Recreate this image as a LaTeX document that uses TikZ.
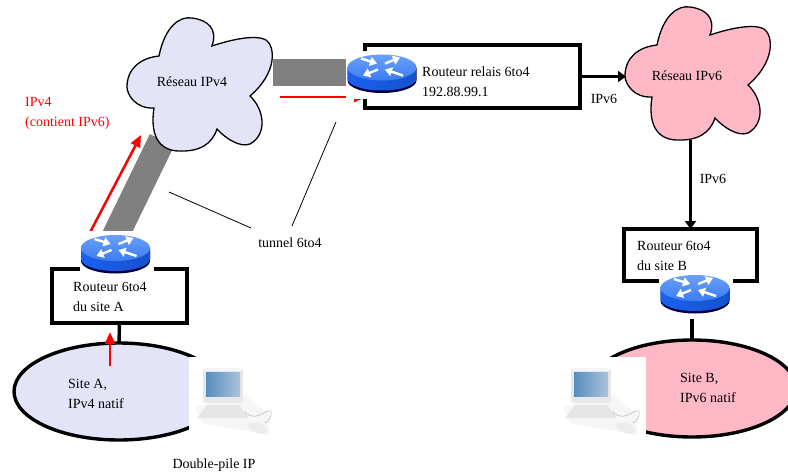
\documentclass[tikz,border=0pt]{standalone}
\usepackage{fontspec}
\setmainfont{Liberation Serif}
\usetikzlibrary{arrows.meta,shapes.geometric}
\definecolor{bleuclair}{HTML}{E3E4F7}
\definecolor{rose}{HTML}{FFB8C6}
\definecolor{bleurouteur}{HTML}{3C7CF2}
\definecolor{bleuvif}{HTML}{6AA0F8}
\definecolor{bleucorps}{HTML}{1A60F0}
\definecolor{ecrang}{HTML}{5A8CBC}
\definecolor{ecrand}{HTML}{A8C4DC}
\tikzset{
  texte/.style={align=left,anchor=west,inner sep=0pt,font=\fontsize{14}{20}\selectfont},
  boite/.style={draw,line width=3.4pt,fill=white,inner sep=0pt,outer sep=0pt},
  site/.style={draw,ellipse,line width=3.4pt,inner sep=0pt,outer sep=0pt,minimum height=97pt},
  liaison/.style={line width=3.4pt},
  fleche/.style={line width=3.4pt,-{Triangle[length=8pt,width=11pt]}},
  rouge/.style={red,line width=2.5pt,-{Triangle[length=12pt,width=10pt]}},
  tunnel/.style={gray,line width=27pt},
  routeur/.pic={
    \fill[white] (-36,-23) rectangle (38,25);
    \fill[black!75!blue] (-34.5,-6) -- (-34.5,7) arc[start angle=180,end angle=0,x radius=34.5,y radius=12.5] -- (34.5,-6) -- cycle;
    \shade[left color=bleucorps,right color=bleucorps!85!black] (-34.5,-6) -- (-34.5,5) arc[start angle=180,end angle=0,x radius=34.5,y radius=12] -- (34.5,-6) -- cycle;
    \shade[top color=bleuvif,bottom color=bleurouteur] (0,-6) ellipse[x radius=34.5,y radius=13];
    \foreach \a/\b/\c/\d in {-21/-15/-5/-10,3/-10/18/-16,-4/-4/-19/2,21/2/3/-4}
      \draw[white,line width=2.4pt,-{Triangle[length=7pt,width=9pt]}] (\a,\b) -- (\c,\d);
    \coordinate (-bas) at (0,25);
  },
  portable/.pic={
    \fill[white] (-34,-28) rectangle (55,60);
    \fill[gray!7] (-28,22) -- (24,10) -- (46,30) -- (46,50) -- (-20,38) -- cycle;
    \fill[gray!18,rounded corners=1pt] (-20,-17) rectangle (20,18);
    \fill[gray!8,rounded corners=1pt] (-20,-17) rectangle (20,-14);
    \shade[left color=ecrang,right color=ecrand] (-17,-13) rectangle (17,11);
    \fill[gray!20,rounded corners=1pt] (-16,20) -- (16,20) -- (26,33) -- (-26,33) -- cycle;
    \draw[gray!60,line width=.5pt] (22,27) .. controls (33,38) and (42,24) .. (48,26) .. controls (49,32) and (46,36) .. (42,38);
    \fill[gray!15,rotate around={-20:(35,43)}] (35,43) ellipse[x radius=10,y radius=5];
  },
  nuage/.pic={
    \draw[line width=1.3pt,fill=#1] (-41,-28) .. controls (-35,-58) and (-20,-68) .. (-8,-66)
      .. controls (8,-64) and (18,-55) .. (12,-38)
      .. controls (30,-44) and (55,-50) .. (66,-44)
      .. controls (75,-38) and (78,-12) .. (50,12)
      .. controls (64,25) and (68,50) .. (50,60)
      .. controls (40,64) and (25,54) .. (17,45)
      .. controls (12,60) and (0,68) .. (-22,67)
      .. controls (-42,66) and (-50,50) .. (-46,24)
      .. controls (-65,25) and (-73,10) .. (-73,3)
      .. controls (-73,-15) and (-60,-26) .. (-41,-28) -- cycle;
  }
}
\begin{document}
\begin{tikzpicture}[x=1pt,y=-1pt]
  \useasboundingbox (0,0) rectangle (788,474);

  \coordinate (tunnelah) at (162,140);
  \coordinate (tunnelab) at (111,245);
  \coordinate (tunnelrg) at (273,72);
  \coordinate (tunnelrd) at (360,72);
  \draw[tunnel] (tunnelab) -- (tunnelah);
  \draw[tunnel] (tunnelrg) -- (tunnelrd);

  \pic at (200,84) {nuage=bleuclair};
  \pic at (698,73) {nuage=rose};
  \node[texte,anchor=center] (reseauv4) at (192,82) {Réseau IPv4};
  \node[texte,anchor=center] (reseauv6) at (687,76) {Réseau IPv6};
  \coordinate (bordv6) at (626,76.5);
  \coordinate (basv6) at (690.5,140);

  \node[site,fill=bleuclair,minimum width=210pt] (sitea) at (119,391.5) {};
  \node[site,fill=rose,minimum width=208pt] (siteb) at (692,388.5) {};

  \node[boite,minimum width=135pt,minimum height=54pt] (boitea) at (119.5,296) {};
  \node[boite,minimum width=215pt,minimum height=63pt] (relais) at (472.5,76.5) {};
  \node[boite,minimum width=133pt,minimum height=52pt] (boiteb) at (690.5,255) {};

  \coordinate (rougeb) at (85,242);
  \coordinate (rougeh) at (141,135);
  \coordinate (rougeg) at (280,97);
  \coordinate (rouged) at (366,97);
  \draw[rouge] (rougeb) -- (rougeh);
  \draw[rouge] (rougeg) -- (rouged);

  \pic (ra) at (115.5,254) {routeur};
  \pic (rr) at (382,73.5) {routeur};
  \pic (rb) at (695,294) {routeur};

  \draw[liaison] (boitea.south) -- (sitea.north);
  \draw[liaison] (rb-bas -| siteb.north) -- (siteb.north);
  \draw[fleche] (relais.east) -- (bordv6);
  \draw[fleche] (basv6) -- (boiteb.north);

  \coordinate (departa) at (110,366);
  \coordinate (arriveea) at (110,332);
  \draw[rouge] (departa) -- (arriveea);

  \pic at (223,385) {portable};
  \pic at (591,385) {portable};

  \node[texte] (texteipv4) at (25,113) {\textcolor{red}{IPv4}\\\textcolor{red}{(contient IPv6)}};
  \node[texte] (textea) at (73,297) {Routeur 6to4\\du site A};
  \node[texte] (texter) at (422,81.5) {Routeur relais 6to4\\192.88.99.1};
  \node[texte] (texteb) at (637,256) {Routeur 6to4\\du site B};
  \node[texte] (textesa) at (68,393.5) {Site A,\\IPv4 natif};
  \node[texte] (textesb) at (680,388) {Site B,\\IPv6 natif};
  \node[texte,anchor=center] (ipv6r) at (604,99) {IPv6};
  \node[texte,anchor=center] (ipv6b) at (713,179) {IPv6};
  \node[texte,anchor=center] (double) at (214,465) {Double-pile IP};
  \node[texte,anchor=center] (tunnel) at (290,243) {tunnel 6to4};

  \coordinate (traita) at (169,192);
  \coordinate (traitab) at (251,228);
  \coordinate (traitb) at (336,122);
  \coordinate (traitbb) at (292,226);
  \draw[line width=.8pt] (traita) -- (traitab);
  \draw[line width=.8pt] (traitb) -- (traitbb);
\end{tikzpicture}
\end{document}
